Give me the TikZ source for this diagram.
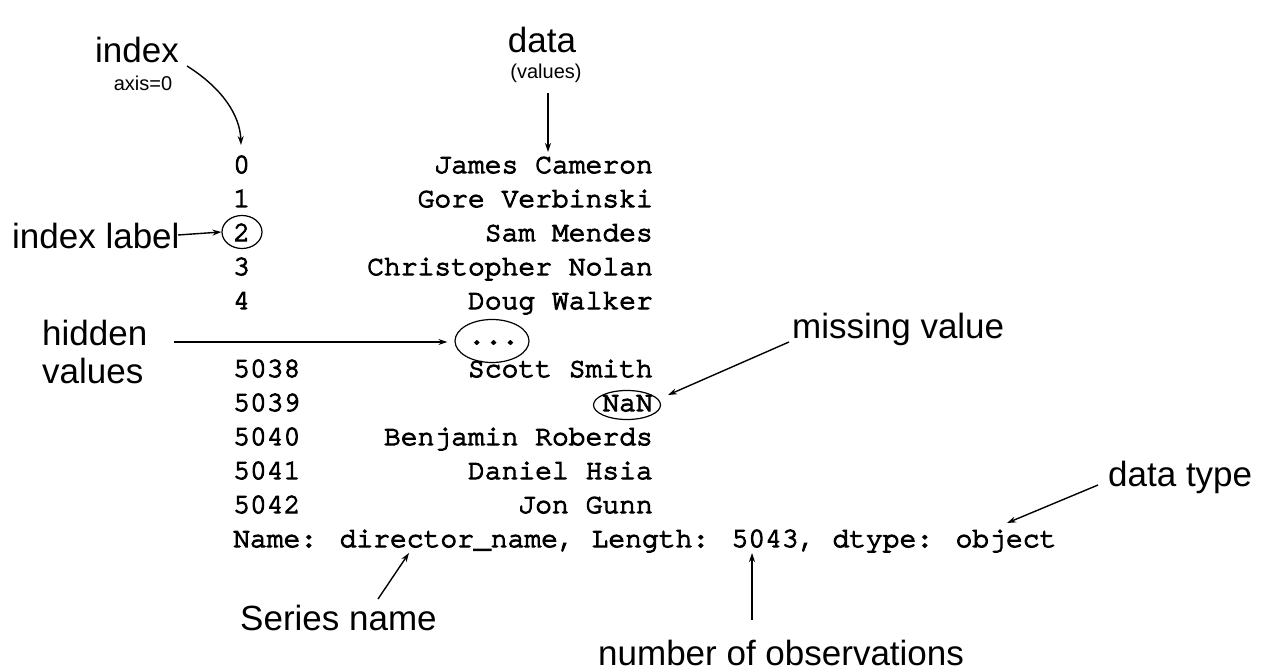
\documentclass[tikz,border=0pt]{standalone}
\usepackage{fontspec}
\setmainfont{Liberation Sans}
\newfontfamily\monofont[FakeBold=4]{texgyrecursor-regular.otf}
\usetikzlibrary{arrows.meta,shapes.geometric}
\tikzset{
  code/.style={inner sep=0pt, font=\monofont\fontsize{28}{30}\selectfont},
  lbl/.style={inner sep=0pt, font=\fontsize{35}{38}\selectfont},
  sublbl/.style={inner sep=0pt, font=\fontsize{20}{22}\selectfont},
  arr/.style={line width=1.4pt, -{Stealth[length=9pt,width=6pt]}},
  ring/.style={draw, line width=1.2pt, ellipse, inner sep=0pt},
}
\begin{document}
\begin{tikzpicture}[x=1pt,y=-1pt]
\useasboundingbox (0,0) rectangle (1261,671);
% index column
\node[code, anchor=base west] (i0) at (233,173) {0};
\node[code, anchor=base west] (i1) at (233,207) {1};
\node[code, anchor=base west] (i2) at (233,241) {2};
\node[code, anchor=base west] (i3) at (233,275) {3};
\node[code, anchor=base west] (i4) at (233,309) {4};
\node[code, anchor=base west] (i6) at (233,377) {5038};
\node[code, anchor=base west] (i7) at (233,411) {5039};
\node[code, anchor=base west] (i8) at (233,445) {5040};
\node[code, anchor=base west] (i9) at (233,479) {5041};
\node[code, anchor=base west] (i10) at (233,513) {5042};
% data column
\node[code, anchor=base east] (d0) at (653,173) {James Cameron};
\node[code, anchor=base east] (d1) at (653,207) {Gore Verbinski};
\node[code, anchor=base east] (d2) at (653,241) {Sam Mendes};
\node[code, anchor=base east] (d3) at (653,275) {Christopher Nolan};
\node[code, anchor=base east] (d4) at (653,309) {Doug Walker};
\node[code, anchor=base west] (d5) at (468.2,344) {...};
\node[code, anchor=base east] (d6) at (653,377) {Scott Smith};
\node[code, anchor=base east] (d7) at (653,411) {NaN};
\node[code, anchor=base east] (d8) at (653,445) {Benjamin Roberds};
\node[code, anchor=base east] (d9) at (653,479) {Daniel Hsia};
\node[code, anchor=base east] (d10) at (653,513) {Jon Gunn};
\node[code, anchor=base west] (foot) at (233,547) {Name: director\_name, Length: 5043, dtype: object};
% rings
\node[ring, minimum width=40pt, minimum height=33pt] (c2) at (242,232) {};
\node[ring, minimum width=74pt, minimum height=43pt] (cdots) at (492,341) {};
\node[ring, minimum width=67pt, minimum height=29pt] (cnan) at (627,405) {};
% labels
\node[lbl, anchor=base] (lindex) at (137,63) {index};
\node[sublbl, anchor=base] (laxis) at (143,91) {axis=0};
\node[lbl, anchor=base] (ldata) at (542,53) {data};
\node[sublbl, anchor=base] (lvalues) at (546,79) {(values)};
\node[lbl, anchor=base west] (lidxlabel) at (12,248) {index label};
\node[lbl, anchor=base west] (lhidden) at (42,345) {hidden};
\node[lbl, anchor=base west] (lhvalues) at (42,383) {values};
\node[lbl, anchor=base west] (lmissing) at (792,338) {missing value};
\node[lbl, anchor=base west] (ldtype) at (1108,486) {data type};
\node[lbl, anchor=base west] (lseries) at (240,630) {Series name};
\node[lbl, anchor=base west] (lnobs) at (598,665) {number of observations};
% arrow end points
\coordinate (aIdxS) at (187,66);
\coordinate (aIdxE) at (241,145);
\coordinate (aDatS) at (548,93);
\coordinate (aDatE) at (548,152);
\coordinate (aLabS) at (178,235);
\coordinate (aHidS) at (174,342);
\coordinate (aMisS) at (789,342);
\coordinate (aMisE) at (668,395);
\coordinate (aTypS) at (1098,485);
\coordinate (aTypE) at (1007,523);
\coordinate (aSerS) at (378,599);
\coordinate (aSerE) at (409,553);
\coordinate (aObsS) at (752,620);
\coordinate (aObsE) at (752,553);
% arrows
\draw[arr] (aIdxS) .. controls (222,88) and (240,115) .. (aIdxE);
\draw[arr] (aDatS) -- (aDatE);
\draw[arr] (aLabS) -- (c2.west);
\draw[arr, shorten >=7pt] (aHidS) -- (aHidS -| cdots.west);
\draw[arr] (aMisS) -- (aMisE);
\draw[arr] (aTypS) -- (aTypE);
\draw[arr] (aSerS) -- (aSerE);
\draw[arr] (aObsS) -- (aObsE);
\end{tikzpicture}
\end{document}
